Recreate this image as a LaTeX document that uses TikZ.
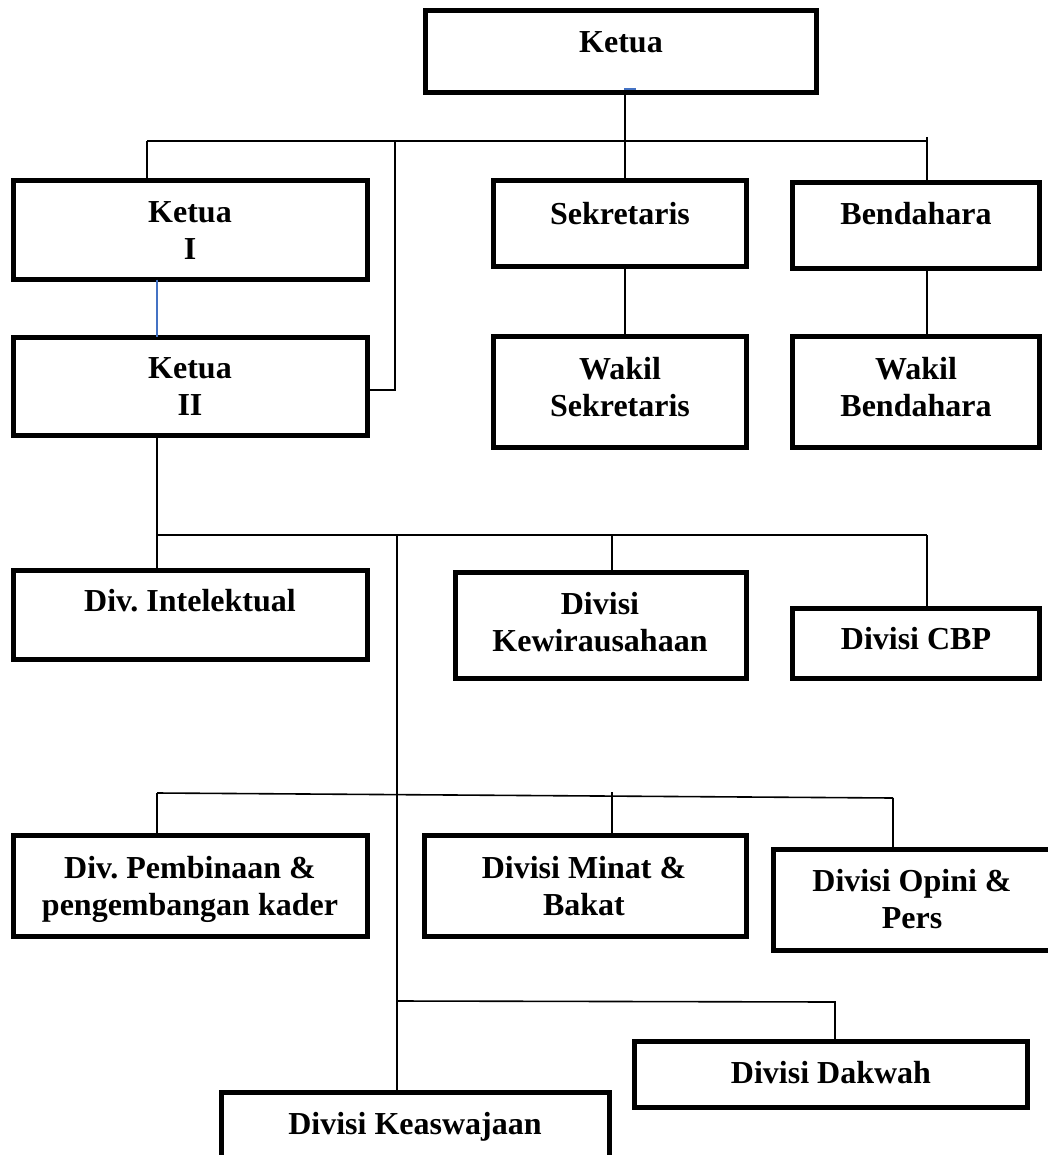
\documentclass[tikz,border=0pt]{standalone}
\usepackage{fontspec}
\setmainfont{Liberation Serif}
\definecolor{linkblue}{HTML}{4472C4}
\begin{document}
\frenchspacing
\begin{tikzpicture}[x=1pt,y=-1pt,
  box/.style={draw=black, line width=4.6pt, rectangle, inner sep=0pt, outer sep=0pt},
  lbl/.style={inner sep=0pt, anchor=north, align=center, font=\frenchspacing\bfseries\fontsize{32}{37}\selectfont},
  conn/.style={draw=black, line width=1.6pt},
  bconn/.style={draw=linkblue, line width=1.6pt}]
\useasboundingbox (0,0) rectangle (1047,1155);

% boxes
\node[box, minimum width=391.4pt, minimum height=82.4pt] (ketua) at (621,51.5) {};
\node[box, minimum width=354.4pt, minimum height=99.4pt] (ketua1) at (190.5,230) {};
\node[box, minimum width=354.4pt, minimum height=98.4pt] (ketua2) at (190.5,386.5) {};
\node[box, minimum width=253.4pt, minimum height=86.4pt] (sek) at (620,223.5) {};
\node[box, minimum width=247.4pt, minimum height=86.4pt] (bend) at (916,225.5) {};
\node[box, minimum width=253.4pt, minimum height=111.4pt] (wsek) at (620,392) {};
\node[box, minimum width=247.4pt, minimum height=111.4pt] (wbend) at (916,392) {};
\node[box, minimum width=354.4pt, minimum height=89.4pt] (divint) at (190.5,615) {};
\node[box, minimum width=291.4pt, minimum height=106.4pt] (kewira) at (601,625.5) {};
\node[box, minimum width=247.4pt, minimum height=70.4pt] (cbp) at (916,643.5) {};
\node[box, minimum width=354.4pt, minimum height=101.4pt] (pemb) at (190.5,886) {};
\node[box, minimum width=322.4pt, minimum height=101.4pt] (minat) at (585.5,886) {};
\node[box, minimum width=284.4pt, minimum height=101.4pt] (opini) at (915.5,900) {};
\node[box, minimum width=393.4pt, minimum height=66.4pt] (dakwah) at (831,1074.5) {};
\node[box, minimum width=388.4pt, minimum height=80.4pt] (keas) at (415.5,1132.5) {};

% texts
\node[lbl] (tketua) at (621,31.4) {Ketua};
\node[lbl] (tketua1) at (190,201.4) {Ketua\\I};
\node[lbl] (tketua2) at (190,357.4) {Ketua\\II};
\node[lbl] (tsek) at (620,202.4) {Sekretaris};
\node[lbl] (tbend) at (916,202.4) {Bendahara};
\node[lbl] (twsek) at (620,357.4) {Wakil\\Sekretaris};
\node[lbl] (twbend) at (916,357.4) {Wakil\\Bendahara};
\node[lbl] (tdivint) at (190,589.4) {Div. Intelektual};
\node[lbl] (tkewira) at (600,592.4) {Divisi\\Kewirausahaan};
\node[lbl] (tcbp) at (916,627.4) {Divisi CBP};
\node[lbl] (tpemb) at (190,856.4) {Div. Pembinaan \&\\pengembangan kader};
\node[lbl] (tminat) at (584,856.4) {Divisi Minat \&\\Bakat};
\node[lbl] (topini) at (912,869.4) {Divisi Opini \&\\Pers};
\node[lbl] (tdakwah) at (831,1061.4) {Divisi Dakwah};
\node[lbl] (tkeas) at (415,1112.4) {Divisi Keaswajaan};

% junction coordinates
\coordinate (b1L) at (147,141);
\coordinate (b1K) at (395,141);
\coordinate (b1M) at (625,141);
\coordinate (b1R) at (927,141);
\coordinate (b1T) at (927,137);
\coordinate (k2j) at (395,390);
\coordinate (k1x) at (157,0);
\coordinate (b2L) at (157,535);
\coordinate (b2S) at (397,535);
\coordinate (b2M) at (612,535);
\coordinate (b2R) at (927,535);
\coordinate (b3L) at (157,793);
\coordinate (b3M) at (612,792);
\coordinate (b3R) at (893,798);
\coordinate (b4L) at (397,1001);
\coordinate (b4R) at (835,1002);

% connectors
\draw[conn] (ketua.south -| b1M) -- (sek.north -| b1M);
\draw[conn] (b1L) -- (b1R);
\draw[conn] (b1L) -- (ketua1.north -| b1L);
\draw[conn] (b1T) -- (bend.north -| b1T);
\draw[conn] (b1K) -- (k2j) -- (ketua2.east |- k2j);
\draw[bconn] (ketua1.south -| k1x) -- (ketua2.north -| k1x);
\draw[conn] (sek.south -| b1M) -- (wsek.north -| b1M);
\draw[conn] (bend.south -| b1R) -- (wbend.north -| b1R);
\draw[conn] (ketua2.south -| b2L) -- (b2L) -- (b2R);
\draw[conn] (b2L) -- (divint.north -| b2L);
\draw[conn] (b2M) -- (kewira.north -| b2M);
\draw[conn] (b2R) -- (cbp.north -| b2R);
\draw[conn] (b2S) -- (keas.north -| b2S);
\draw[conn] (b3L) -- (b3R);
\draw[conn] (b3L) -- (pemb.north -| b3L);
\draw[conn] (b3M) -- (minat.north -| b3M);
\draw[conn] (b3R) -- (opini.north -| b3R);
\draw[conn] (b4L) -- (b4R) -- (dakwah.north -| b4R);

% small blue mark on the bottom edge of the top box
\draw[linkblue, line width=2pt] (624,89.5) -- (636,89.5);
\end{tikzpicture}
\end{document}
